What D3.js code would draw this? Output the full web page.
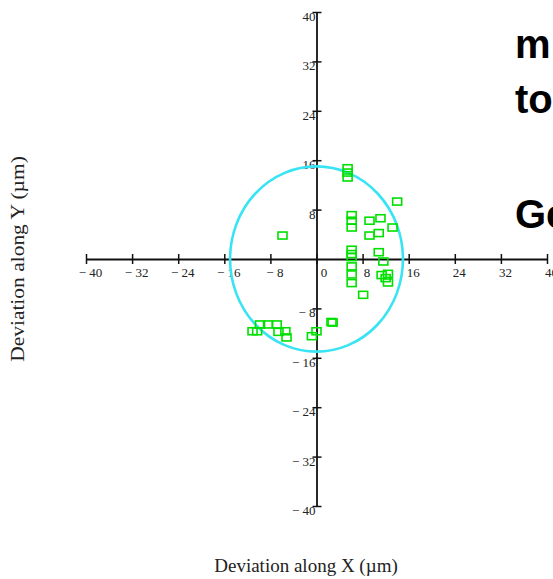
<!DOCTYPE html>
<html>
<head>
<meta charset="utf-8">
<script src="https://cdn.jsdelivr.net/npm/d3@7/dist/d3.min.js"></script>
<style>
  html, body { margin: 0; padding: 0; background: #fff; }
  svg { display: block; }
</style>
</head>
<body>
<svg id="chart" width="553" height="579"></svg>
<script>
// Measured deviations (µm) of each hole position, X and Y
const devX = [5.4, 5.4, 5.4, 14.0, 6.1, 6.1, 6.1, 9.2, 11.1, 13.2, 9.2, 10.8, -5.9,
              6.1, 6.1, 6.1, 6.1, 6.1, 6.1, 10.8, 11.6, 11.3, 12.4, 12.0, 12.4, 8.1,
              2.6, 2.8, 0.0, -0.8, -11.1, -10.3, -9.8, -8.4, -6.9, -6.6, -5.4, -5.2];
const devY = [14.7, 14.0, 13.2, 9.3, 7.1, 6.2, 5.1, 6.2, 6.6, 5.1, 3.8, 4.2, 3.8,
              1.5, 0.8, 0.3, -1.2, -2.5, -3.9, 1.1, -0.4, -2.6, -2.4, -3.1, -3.8, -5.8,
              -10.2, -10.3, -11.7, -12.5, -11.7, -11.7, -10.6, -10.6, -10.6, -11.8, -11.7, -12.7];

// Tolerance circle radius (µm), centred on the nominal position
const toleranceRadius = 15;

// Axis ticks
const xTicks = [-40, -32, -24, -16, -8, 0, 8, 16, 24, 32, 40];
const yTicks = [-40, -32, -24, -16, -8, 8, 16, 24, 32, 40];

const svg = d3.select("#chart");
const x = d3.scaleLinear().domain([-40, 40]).range([86, 547]);
const y = d3.scaleLinear().domain([-40, 40]).range([506, 12]);

const fmt = v => v < 0 ? "\u2212 " + Math.abs(v) : String(v);
const serif = "'Liberation Serif', 'Times New Roman', serif";

// X axis through the origin
const gx = svg.append("g")
  .attr("transform", `translate(0,${y(0)})`)
  .call(d3.axisBottom(x).tickValues(xTicks).tickSizeOuter(0).tickFormat(fmt));
gx.select(".domain").attr("stroke", "#111").attr("stroke-width", 1.8);
gx.selectAll(".tick line").attr("y1", -5).attr("y2", 5).attr("stroke", "#111").attr("stroke-width", 1.5);
gx.selectAll(".tick text")
  .attr("y", 13).attr("dy", "0.35em")
  .attr("dx", d => d === 0 ? 7 : 4)
  .attr("font-family", serif).attr("font-size", 13).attr("fill", "#222");

// Y axis through the origin
const gy = svg.append("g")
  .attr("transform", `translate(${x(0)},0)`)
  .call(d3.axisLeft(y).tickValues(yTicks).tickSizeOuter(0).tickFormat(fmt));
gy.select(".domain").attr("stroke", "#111").attr("stroke-width", 1.8);
gy.selectAll(".tick line").attr("x1", -4).attr("x2", 5).attr("stroke", "#111").attr("stroke-width", 1.5);
gy.selectAll(".tick text")
  .attr("x", -1).attr("dy", "0.8em").attr("y", -2)
  .attr("font-family", serif).attr("font-size", 13).attr("fill", "#222");

// Tolerance circle
svg.append("ellipse")
  .attr("cx", x(0)).attr("cy", y(0))
  .attr("rx", x(toleranceRadius) - x(0))
  .attr("ry", y(0) - y(toleranceRadius))
  .attr("fill", "none").attr("stroke", "#38e4f4").attr("stroke-width", 2.6);

// Measured points as open squares
const pts = devX.map((v, i) => ({ x: v, y: devY[i] }));
const w = 9, h = 7;
svg.append("g").selectAll("rect").data(pts).join("rect")
  .attr("x", d => x(d.x) - w / 2)
  .attr("y", d => y(d.y) - h / 2)
  .attr("width", w).attr("height", h)
  .attr("fill", "none").attr("stroke", "#00e000").attr("stroke-width", 1.6);

// Axis titles
svg.append("text")
  .attr("x", 306).attr("y", 572)
  .attr("text-anchor", "middle")
  .attr("font-family", serif).attr("font-size", 19).attr("fill", "#222")
  .text("Deviation along X (\u00b5m)");
svg.append("text")
  .attr("transform", `translate(24,259) rotate(-90) scale(1.13,1)`)
  .attr("text-anchor", "middle")
  .attr("font-family", serif).attr("font-size", 19).attr("fill", "#222")
  .text("Deviation along Y (\u00b5m)");

// Slide text at the right edge
const sans = "'Liberation Sans', Arial, sans-serif";
[["m", 58], ["to", 113], ["Ge", 228]].forEach(([t, by]) => {
  svg.append("text")
    .attr("x", 515).attr("y", by)
    .attr("font-family", sans).attr("font-weight", "bold").attr("font-size", 40)
    .attr("fill", "#000").text(t);
});
</script>
</body>
</html>
